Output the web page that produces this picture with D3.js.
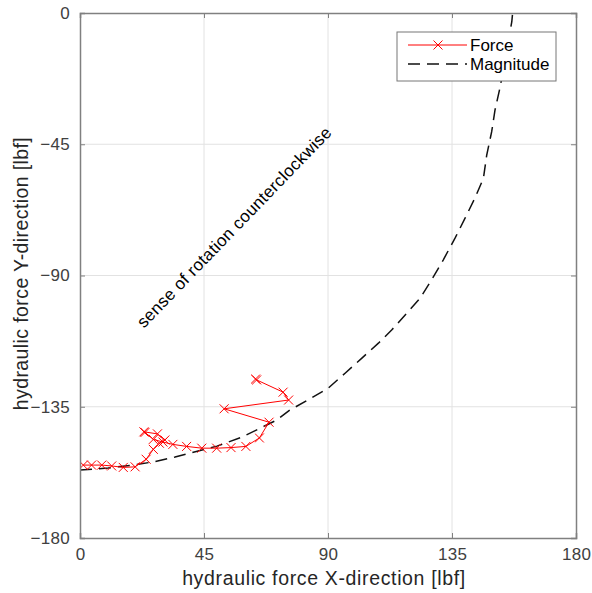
<!DOCTYPE html>
<html>
<head>
<meta charset="utf-8">
<script src="https://cdn.jsdelivr.net/npm/d3@7"></script>
<style>
  html, body { margin: 0; padding: 0; background: #fff; }
  svg { display: block; font-family: "Liberation Sans", Arial, Helvetica, sans-serif; }
</style>
</head>
<body>
<svg id="chart" width="592" height="593"></svg>
<script>
// ---- data ----
const forceX = [1.2, 4.2, 7.9, 11.5, 15.7, 20.0, 24.0, 26.6, 28.8, 30.8, 28.1, 23.2, 23.6, 26.6, 30.1, 33.7, 38.7, 44.2, 49.6, 54.8, 60.2, 65.1, 68.6, 52.3, 75.7, 73.7, 64.1, 63.7];
const forceY = [-155.0, -155.0, -155.0, -155.3, -155.8, -155.6, -153.0, -149.6, -147.5, -146.4, -144.3, -143.6, -143.8, -146.2, -147.1, -147.9, -148.6, -149.2, -149.2, -149.0, -148.6, -145.7, -140.3, -135.7, -132.7, -130.0, -125.8, -125.5];

const magX = [0, 10.2, 20.0, 27.2, 34.5, 44.3, 49.7, 58.8, 65.3, 71.5, 76.2, 82.7, 90.0, 96.2, 102.2, 108.3, 113.1, 118.6, 123.4, 127.6, 131.8, 136.1, 139.7, 143.3, 146.4, 147.6, 149.4, 150.6, 152.4, 154.6, 156.7, 157.0];
const magY = [-156.7, -156.0, -154.9, -153.8, -152.2, -149.8, -148.5, -145.4, -142.4, -139.5, -136.1, -132.7, -128.7, -123.5, -118.4, -113.2, -108.7, -102.9, -97.8, -91.5, -84.7, -77.2, -70.4, -63.5, -56.7, -48.7, -40.7, -33.3, -25.7, -14.4, -3.0, 0.0];

const xTicks = [0, 45, 90, 135, 180];
const yTicks = [-180, -135, -90, -45, 0];
const xDomain = [0, 180];
const yDomain = [-180, 0];

const seriesNames = ["Force", "Magnitude"];
const xLabel = "hydraulic force X-direction [lbf]";
const yLabel = "hydraulic force Y-direction [lbf]";
const annotation = "sense of rotation counterclockwise";
const annotationPos = [56.3, -73.7];

// ---- layout ----
const margin = { left: 80, top: 13, width: 496, height: 525 };
const svg = d3.select("#chart");
const g = svg.append("g").attr("transform", `translate(${margin.left},${margin.top})`);

const x = d3.scaleLinear().domain(xDomain).range([0, margin.width]);
const y = d3.scaleLinear().domain(yDomain).range([margin.height, 0]);

const axisColor = "#808080";
const textColor = "#404040";

// grid
g.append("g").selectAll("line.gx").data(xTicks.slice(1, -1)).join("line")
  .attr("x1", d => x(d)).attr("x2", d => x(d))
  .attr("y1", 0).attr("y2", margin.height)
  .attr("stroke", "#e2e2e2").attr("stroke-width", 1);
g.append("g").selectAll("line.gy").data(yTicks.slice(1, -1)).join("line")
  .attr("y1", d => y(d)).attr("y2", d => y(d))
  .attr("x1", 0).attr("x2", margin.width)
  .attr("stroke", "#e2e2e2").attr("stroke-width", 1);

// clip
svg.append("defs").append("clipPath").attr("id", "clip")
  .append("rect").attr("x", 0).attr("y", 0).attr("width", margin.width).attr("height", margin.height);

const plot = g.append("g").attr("clip-path", "url(#clip)");

// magnitude dashed
const magData = magX.map((d, i) => [d, magY[i]]);
plot.append("path").datum(magData)
  .attr("fill", "none").attr("stroke", "#111").attr("stroke-width", 1.5)
  .attr("stroke-dasharray", "12,7")
  .attr("d", d3.line().x(d => x(d[0])).y(d => y(d[1])));

// force line
const forceData = forceX.map((d, i) => [d, forceY[i]]);
plot.append("path").datum(forceData)
  .attr("fill", "none").attr("stroke", "#ff0000").attr("stroke-width", 1)
  .attr("d", d3.line().x(d => x(d[0])).y(d => y(d[1])));

const ms = 4.5;
plot.append("g").selectAll("path").data(forceData).join("path")
  .attr("transform", d => `translate(${x(d[0])},${y(d[1])})`)
  .attr("d", `M${-ms},${-ms}L${ms},${ms}M${-ms},${ms}L${ms},${-ms}`)
  .attr("stroke", "#ff0000").attr("stroke-width", 1).attr("fill", "none");

// axes (box with inward ticks)
const tickLen = 5;
const axB = g.append("g").attr("transform", `translate(0,${margin.height})`)
  .call(d3.axisBottom(x).tickValues(xTicks).tickSize(-tickLen).tickPadding(10).tickFormat(d3.format("d")));
const axT = g.append("g")
  .call(d3.axisTop(x).tickValues(xTicks).tickSize(-tickLen).tickFormat(""));
const axL = g.append("g")
  .call(d3.axisLeft(y).tickValues(yTicks).tickSize(-tickLen).tickPadding(10).tickFormat(d3.format("d")));
const axR = g.append("g").attr("transform", `translate(${margin.width},0)`)
  .call(d3.axisRight(y).tickValues(yTicks).tickSize(-tickLen).tickFormat(""));

[axB, axT, axL, axR].forEach(a => {
  a.select(".domain").attr("stroke", axisColor).attr("stroke-width", 1.5);
  a.selectAll(".tick line").attr("stroke", axisColor);
  a.selectAll("text").attr("fill", textColor).attr("font-size", 17)
    .attr("letter-spacing", "0.3px")
    .attr("font-family", "Liberation Sans, Arial, sans-serif");
});
axB.selectAll(".tick text").attr("dy", "0.71em");

// axis labels
svg.append("text")
  .attr("x", margin.left + margin.width / 2 - 4).attr("y", 585)
  .attr("text-anchor", "middle").attr("fill", "#262626")
  .attr("font-size", 19.5).attr("letter-spacing", "0.65px").text(xLabel);
svg.append("text")
  .attr("transform", `translate(28,${margin.top + margin.height / 2 - 2}) rotate(-90)`)
  .attr("text-anchor", "middle").attr("fill", "#262626")
  .attr("font-size", 19.5).attr("letter-spacing", "0.4px").text(yLabel);

// annotation
g.append("text")
  .attr("transform", `translate(${x(annotationPos[0])},${y(annotationPos[1])}) rotate(-46)`)
  .attr("text-anchor", "middle").attr("dominant-baseline", "middle")
  .attr("fill", "#000").attr("font-size", 17).attr("letter-spacing", "0.35px").text(annotation);

// legend
const lg = svg.append("g").attr("transform", "translate(397,32)");
lg.append("rect").attr("width", 159).attr("height", 49)
  .attr("fill", "#fff").attr("stroke", "#777").attr("stroke-width", 1);
const rows = [
  { name: seriesNames[0], color: "#ff0000", dash: null, marker: true, w: 1 },
  { name: seriesNames[1], color: "#111", dash: "12,7", marker: false, w: 1.5 }
];
rows.forEach((r, i) => {
  const cy = 13 + i * 19;
  lg.append("line").attr("x1", 11).attr("x2", 70).attr("y1", cy).attr("y2", cy)
    .attr("stroke", r.color).attr("stroke-width", r.w)
    .attr("stroke-dasharray", r.dash);
  if (r.marker) {
    lg.append("path").attr("transform", `translate(41,${cy})`)
      .attr("d", `M${-ms},${-ms}L${ms},${ms}M${-ms},${ms}L${ms},${-ms}`)
      .attr("stroke", r.color).attr("stroke-width", 1);
  }
  lg.append("text").attr("x", 73).attr("y", cy).attr("dy", "0.35em")
    .attr("font-size", 17).attr("fill", "#000").text(r.name);
});
</script>
</body>
</html>
